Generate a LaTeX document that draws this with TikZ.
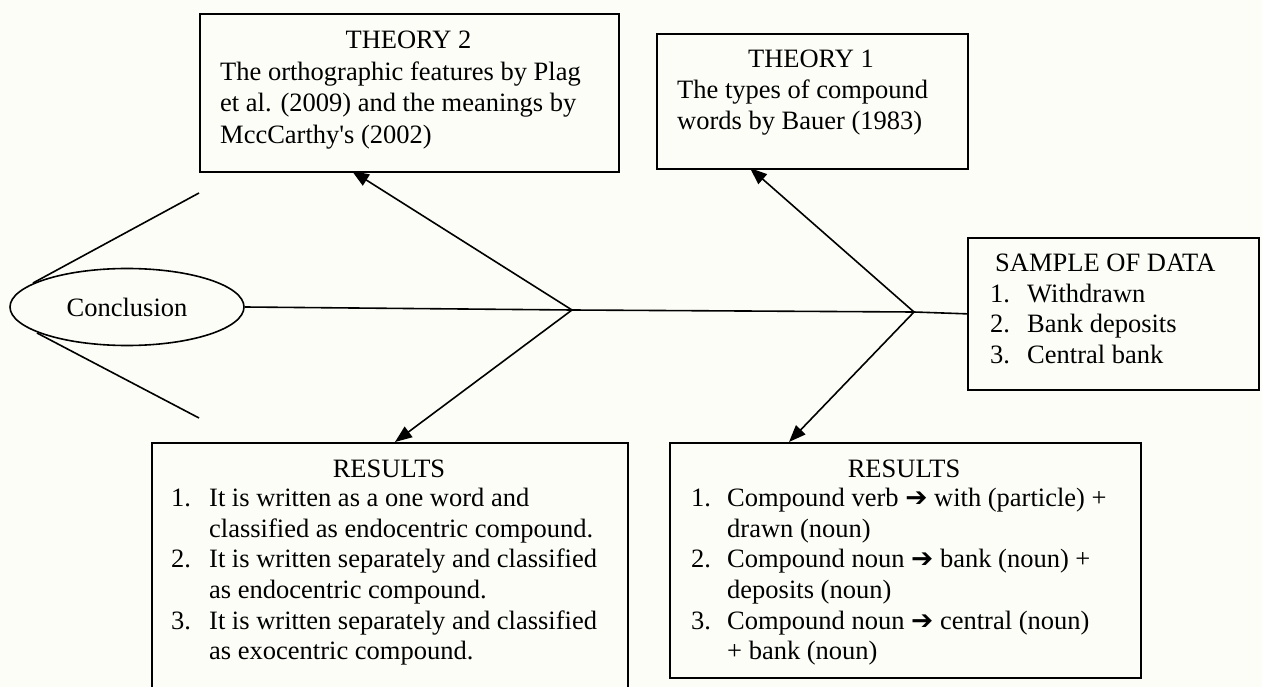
\documentclass[tikz,border=0pt]{standalone}
\usepackage{fontspec}
\setmainfont{Liberation Serif}[Ligatures=TeXOff]
\newfontfamily\symfont{DejaVu Sans}
\usetikzlibrary{arrows.meta,shapes.geometric}
\definecolor{bgc}{RGB}{253,253,248}
\newcommand{\hvyarrow}{{\symfont\char"2794}}
\begin{document}
\begin{tikzpicture}[x=1pt,y=-1pt,
  box/.style={draw, line width=1.7pt, rectangle, inner sep=0, anchor=north west},
  txt/.style={anchor=base west, inner sep=0, font=\fontsize{26.5}{30.6}\selectfont},
  ctxt/.style={anchor=base, inner sep=0, font=\fontsize{26.5}{30.6}\selectfont},
  ln/.style={line width=1.6pt},
  arr/.style={ln, -{Triangle[length=17pt,width=13pt]}}]
\fill[bgc] (0,0) rectangle (1262,687);
\useasboundingbox (0,0) rectangle (1262,687);
\clip (0,0) rectangle (1262,687);

% boxes
\node[box, minimum width=419pt, minimum height=158pt] (t2) at (199,13) {};
\node[box, minimum width=311pt, minimum height=135pt] (t1) at (656,33) {};
\node[box, minimum width=291pt, minimum height=152pt] (sd) at (967,237) {};
\node[box, minimum width=476pt, minimum height=270pt] (rl) at (151,442) {};
\node[box, minimum width=471pt, minimum height=235pt] (rr) at (669,442) {};
\node[draw, ellipse, line width=1.6pt, minimum width=234pt, minimum height=77pt, inner sep=0,
      font=\fontsize{26.5}{30.6}\selectfont] (con) at (127,307) {Conclusion};

% theory 2
\node[ctxt] (t2h) at (408.5,49) {THEORY 2};
\node[txt] (t2a) at (220,81) {The orthographic features by Plag};
\node[txt] (t2b) at (220,112) {et al. (2009) and the meanings by};
\node[txt] (t2c) at (220,144) {MccCarthy's (2002)};

% theory 1
\node[ctxt] (t1h) at (811,68) {THEORY 1};
\node[txt] (t1a) at (677,99) {The types of compound};
\node[txt] (t1b) at (677,130) {words by Bauer (1983)};

% sample of data
\node[txt] (sdh) at (995,272) {SAMPLE OF DATA};
\node[txt] (sda) at (990,302) {\makebox[37pt][l]{1.}Withdrawn};
\node[txt] (sdb) at (990,332) {\makebox[37pt][l]{2.}Bank deposits};
\node[txt] (sdc) at (990,363) {\makebox[37pt][l]{3.}Central bank};

% results left
\node[ctxt] (rlh) at (389,477) {RESULTS};
\node[txt] (rla) at (171,506) {\makebox[38pt][l]{1.}It is written as a one word and};
\node[txt] (rlb) at (209,537) {classified as endocentric compound.};
\node[txt] (rlc) at (171,567) {\makebox[38pt][l]{2.}It is written separately and classified};
\node[txt] (rld) at (209,598) {as endocentric compound.};
\node[txt] (rle) at (171,629) {\makebox[38pt][l]{3.}It is written separately and classified};
\node[txt] (rlf) at (209,659) {as exocentric compound.};

% results right
\node[ctxt] (rrh) at (904,477) {RESULTS};
\node[txt] (rra) at (691,506) {\makebox[36pt][l]{1.}Compound verb \hvyarrow{} with (particle) +};
\node[txt] (rrb) at (727,537) {drawn (noun)};
\node[txt] (rrc) at (691,567) {\makebox[36pt][l]{2.}Compound noun \hvyarrow{} bank (noun) +};
\node[txt] (rrd) at (727,598) {deposits (noun)};
\node[txt] (rre) at (691,629) {\makebox[36pt][l]{3.}Compound noun \hvyarrow{} central (noun)};
\node[txt] (rrf) at (727,659) {+ bank (noun)};

% connectors
\coordinate (j1) at (572,310);
\coordinate (j2) at (914,312);
\coordinate (t2in) at (352,171);
\coordinate (rlin) at (395,442);
\coordinate (t1in) at (750,168);
\coordinate (rrin) at (789,442);
\coordinate (u0) at (33,283);
\coordinate (u1) at (199,193);
\coordinate (d0) at (37,333);
\coordinate (d1) at (199,418);

\draw[ln] (con.east) -- (j1) -- (j2) -- (sd.west);
\draw[arr] (j1) -- (t2in);
\draw[arr] (j1) -- (rlin);
\draw[arr] (j2) -- (t1in);
\draw[arr] (j2) -- (rrin);
\draw[ln] (u0) -- (u1);
\draw[ln] (d0) -- (d1);
\end{tikzpicture}
\end{document}
